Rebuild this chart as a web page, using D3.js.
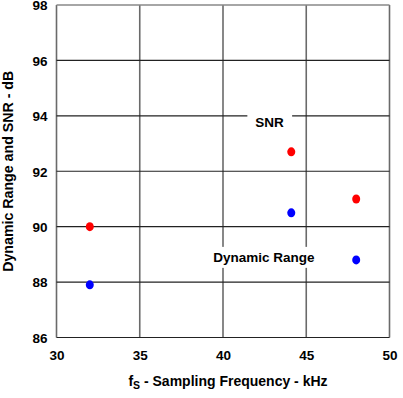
<!DOCTYPE html>
<html>
<head>
<meta charset="utf-8">
<script src="https://cdn.jsdelivr.net/npm/d3@7"></script>
<style>
  body { margin: 0; background: #fff; }
  text { font-family: "Liberation Sans", Arial, sans-serif; font-weight: bold; fill: #000; }
</style>
</head>
<body>
<svg id="app" width="403" height="398"></svg>
<script>
// 数据
const freq = [32, 44.1, 48];          // kHz
const snr = [90, 92.7, 91];           // dB
const dynRange = [87.9, 90.5, 88.8];  // dB
const xTicks = [30, 35, 40, 45, 50];
const yTicks = [86, 88, 90, 92, 94, 96, 98];

const MARGIN = { TOP: 5, RIGHT: 13.5, LEFT: 56.5, BOTTOM: 60.5 };
const W = 403, H = 398;

const svg = d3.select("#app");

const x = d3.scaleLinear().domain([30, 50]).range([MARGIN.LEFT, W - MARGIN.RIGHT]);
const y = d3.scaleLinear().domain([86, 98]).range([H - MARGIN.BOTTOM, MARGIN.TOP]);

// 网格 - 竖线
svg.append("g")
  .selectAll("line")
  .data(xTicks)
  .enter().append("line")
  .attr("x1", d => x(d)).attr("x2", d => x(d))
  .attr("y1", y(98)).attr("y2", y(86))
  .attr("stroke", "#6a6a6a")
  .attr("stroke-width", 1.6);

// 网格 - 横线
svg.append("g")
  .selectAll("line")
  .data(yTicks)
  .enter().append("line")
  .attr("x1", x(30)).attr("x2", x(50))
  .attr("y1", d => y(d)).attr("y2", d => y(d))
  .attr("stroke", d => d === 98 ? "#888" : "#222")
  .attr("stroke-width", d => d === 98 ? 1.5 : 1.2);

// 坐标轴刻度文字
const axisB = d3.axisBottom(x).tickValues(xTicks).tickSize(0).tickPadding(13);
svg.append("g")
  .attr("transform", `translate(0,${y(86)})`)
  .call(axisB)
  .call(g => g.select(".domain").remove())
  .selectAll("text")
  .style("font-size", "13.5px")
  .style("font-family", "Liberation Sans, Arial, sans-serif")
  .style("font-weight", "bold");

const axisL = d3.axisLeft(y).tickValues(yTicks).tickSize(0).tickPadding(9);
svg.append("g")
  .attr("transform", `translate(${x(30)},0)`)
  .call(axisL)
  .call(g => g.select(".domain").remove())
  .selectAll("text")
  .attr("dy", "0.36em")
  .style("font-size", "13.5px")
  .style("font-family", "Liberation Sans, Arial, sans-serif")
  .style("font-weight", "bold");

// 标签 (白底遮住网格)
function label(txt, cx, cy) {
  const t = svg.append("text")
    .attr("x", cx).attr("y", cy)
    .attr("text-anchor", "middle")
    .attr("dy", "0.35em")
    .style("font-size", "13.5px")
    .text(txt);
  const b = t.node().getBBox();
  svg.insert("rect", () => t.node())
    .attr("x", b.x - 8).attr("y", b.y - 3)
    .attr("width", b.width + 16).attr("height", b.height + 6)
    .attr("fill", "#fff");
}
label("SNR", x(42.8), y(93.75));
label("Dynamic Range", x(42.45), y(88.9));

// 数据点
svg.append("g").selectAll("ellipse")
  .data(freq)
  .enter().append("ellipse")
  .attr("cx", d => x(d))
  .attr("cy", (d, i) => y(snr[i]))
  .attr("rx", 4).attr("ry", 4.5)
  .attr("fill", "#ff0000");

svg.append("g").selectAll("ellipse")
  .data(freq)
  .enter().append("ellipse")
  .attr("cx", d => x(d))
  .attr("cy", (d, i) => y(dynRange[i]))
  .attr("rx", 4).attr("ry", 4.5)
  .attr("fill", "#0000ff");

// 轴标题
const xt = svg.append("text")
  .attr("x", 228).attr("y", 386)
  .attr("text-anchor", "middle")
  .style("font-size", "14px");
xt.append("tspan").text("f");
xt.append("tspan").attr("dy", 3).style("font-size", "10.5px").text("S");
xt.append("tspan").attr("dy", -3).text(" - Sampling Frequency - kHz");

svg.append("text")
  .attr("transform", `translate(13,${(y(86) + y(98)) / 2}) rotate(-90)`)
  .attr("text-anchor", "middle")
  .style("font-size", "14.2px")
  .text("Dynamic Range and SNR - dB");
</script>
</body>
</html>
